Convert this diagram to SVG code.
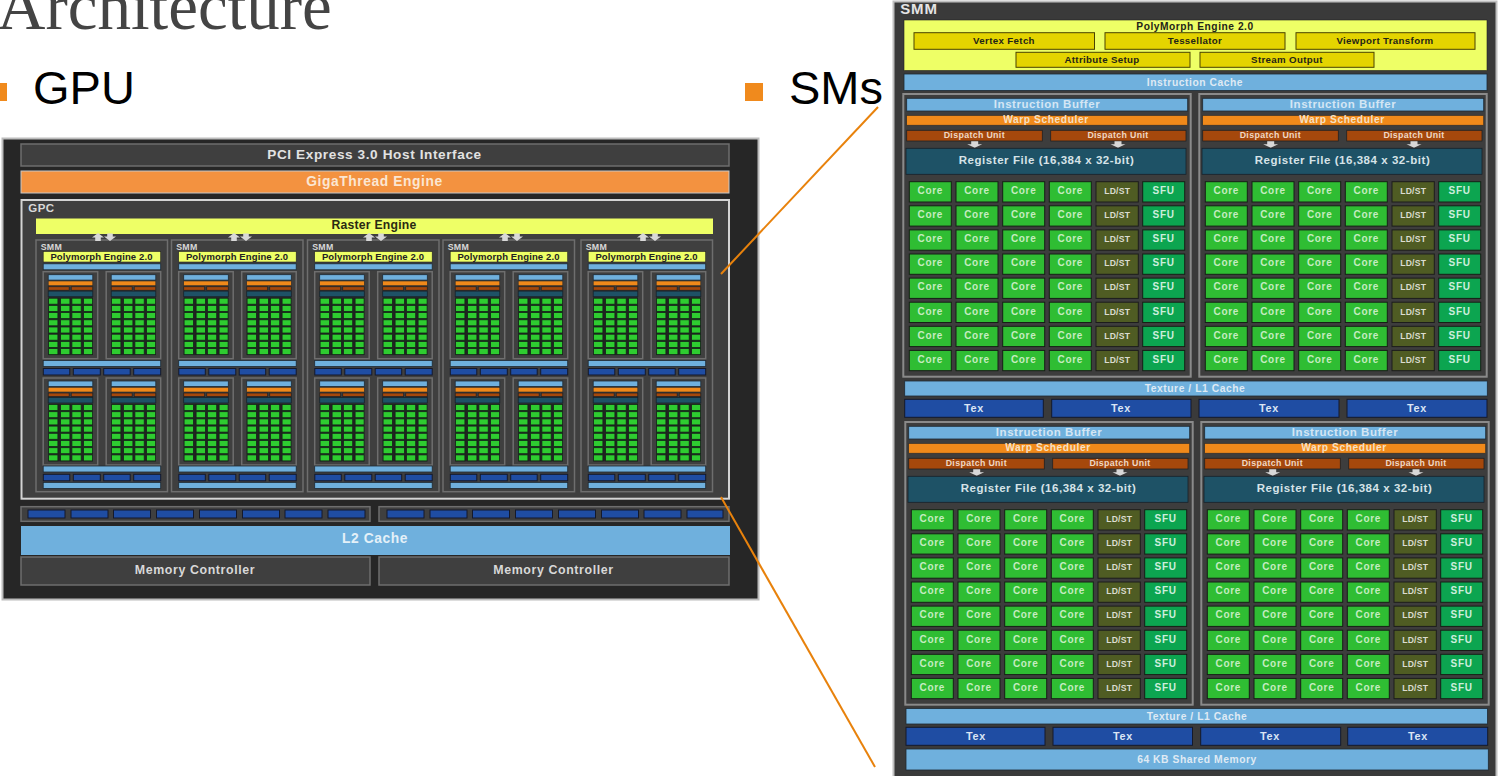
<svg xmlns="http://www.w3.org/2000/svg" xmlns:xlink="http://www.w3.org/1999/xlink" width="1499" height="776" viewBox="0 0 1499 776">
<style>
text{font-family:"Liberation Sans",Arial,sans-serif;font-weight:bold;text-anchor:middle}
.big{font-weight:normal;text-anchor:start;fill:#000;font-size:47px}
.bul{fill:#f08a1d}
.frame{fill:#3f3f3f;stroke:#6e6e6e;stroke-width:1.5}
.lb{fill:#6fb0dd;stroke:#1f2a33;stroke-width:.8}
.or{fill:#f0891a;stroke:#2a2a2a;stroke-width:.6}
.du{fill:#a5480c;stroke:#222;stroke-width:.8}
.rf{fill:#1e5266;stroke:#17222a;stroke-width:.8}
.bl{fill:#1f4da3;stroke:#14192b;stroke-width:1}
.ye{fill:#eeff66;stroke:#222;stroke-width:.6}
.mu{fill:#e4d400;stroke:#4a4300;stroke-width:1}
.cr{fill:#2fbd33;stroke:#161e16;stroke-width:1}
.cs{fill:#2ecc30;stroke:#14261a;stroke-width:.8}
.ld{fill:#4f5c23;stroke:#1c1c1c;stroke-width:1}
.sf{fill:#0ca550;stroke:#161e16;stroke-width:1}
.ar{fill:#d8d8d8}
.w1{fill:#e2e2e2;font-size:13.6px;letter-spacing:.6px}
.w2{fill:#d8d8d8;font-size:12.4px;letter-spacing:.6px}
.w3{fill:#d8d8d8;font-size:11.5px;letter-spacing:.45px}
.d1{fill:#2a2a12;font-size:12.2px;letter-spacing:.25px}
.d2{fill:#222;font-size:9.5px;letter-spacing:.12px}
.s1{fill:#d8d8d8;font-size:8.8px;letter-spacing:.3px;text-anchor:start}
.co text.t1{fill:#d4e6f4;font-size:11.5px;letter-spacing:.55px}
.co text.t2{fill:#f6e0c4;font-size:10.2px;letter-spacing:.6px}
.co text.t3{fill:#f0d8c4;font-size:8.8px;letter-spacing:.35px}
.co text.t4{fill:#d6e3e8;font-size:11.5px;letter-spacing:.55px}
.t5{fill:#dfeaf4;font-size:10.3px;letter-spacing:.55px}
.tx{fill:#dbe5f4;font-size:10.8px;letter-spacing:.7px}
.t6{fill:#1f2418;font-size:9.7px;letter-spacing:.35px}
.co text{fill:#c5ecc0;font-size:10px;letter-spacing:.7px}
.co text.l{fill:#dcdcd0;font-size:8.6px;letter-spacing:.25px}
.co text.s{fill:#cdeedd;font-size:10px;letter-spacing:.8px}
</style>
<defs>
<polygon id="up" class="ar" points="-6,1 0,-3.5 6,1 2.8,1 2.8,4.5 -2.8,4.5 -2.8,1"/>
<polygon id="dn" class="ar" points="-2.8,-3 2.8,-3 2.8,0 6,0 0,4.5 -6,0 -2.8,0"/>
<polygon id="da" class="ar" points="-3.5,0 3.5,0 3.5,3 7.5,3 0,6.5 -7.5,3 -3.5,3"/>
<g id="arrows"><use xlink:href="#up" x="-6" y="236.5"/><use xlink:href="#dn" x="6" y="236.5"/></g>
<g id="crow">
<rect class="cs" x="5.4" width="9.3" height="6"/><rect class="cs" x="17.4" width="9.3" height="6"/><rect class="cs" x="28.7" width="9.3" height="6"/><rect class="cs" x="40.4" width="9" height="6"/>
</g>
<g id="block">
<rect class="frame" width="54.5" height="87"/>
<rect x="5" y="25.6" width="44.6" height="57.8" fill="#222"/>
<rect class="lb" x="5" y="3" width="44.6" height="5.4"/>
<rect class="or" x="5" y="9.3" width="44.6" height="4.7"/>
<rect class="du" x="5" y="15" width="21" height="3.6"/><rect class="du" x="28" y="15" width="21.6" height="3.6"/>
<rect class="rf" x="5" y="19.4" width="44.6" height="5.6"/>
<use xlink:href="#crow" y="26.5"/><use xlink:href="#crow" y="33.7"/><use xlink:href="#crow" y="40.9"/><use xlink:href="#crow" y="48.1"/><use xlink:href="#crow" y="55.3"/><use xlink:href="#crow" y="62.5"/><use xlink:href="#crow" y="69.7"/><use xlink:href="#crow" y="76.9"/>
</g>
<g id="texrow">
<rect class="bl" x="7.3" width="26.5" height="6.5"/><rect class="bl" x="37.3" width="27" height="6.5"/><rect class="bl" x="67.7" width="26.5" height="6.5"/><rect class="bl" x="97.7" width="27" height="6.5"/>
</g>
<g id="smmsmall">
<rect class="frame" y="240" width="131.5" height="251.7"/>
<rect class="ye" x="7.2" y="251.5" width="117.5" height="10.5"/>
<rect class="lb" x="7.2" y="263.8" width="117.5" height="6"/>
<use xlink:href="#block" x="7.2" y="271.7"/><use xlink:href="#block" x="70.2" y="271.7"/>
<rect class="lb" x="7.2" y="360.5" width="117.5" height="6"/>
<use xlink:href="#texrow" y="368.5"/>
<use xlink:href="#block" x="7.2" y="378"/><use xlink:href="#block" x="70.2" y="378"/>
<rect class="lb" x="7.2" y="466" width="117.5" height="6"/>
<use xlink:href="#texrow" y="474.3"/>
<rect class="lb" x="7.2" y="482.4" width="117.5" height="6"/>
</g>
<g id="bigrow">
<rect class="cr" x="909.3" width="42" height="20.3"/><rect class="cr" x="956" width="42" height="20.3"/><rect class="cr" x="1002.7" width="42" height="20.3"/><rect class="cr" x="1049.3" width="42" height="20.3"/><rect class="ld" x="1096" width="42.3" height="20.3"/><rect class="sf" x="1142.7" width="42" height="20.3"/>
</g>
<g id="cluster">
<rect x="903.3" y="94" width="287.4" height="282.7" fill="#3d3d3d" stroke="#8a8a8a" stroke-width="2"/>
<rect class="lb" x="906.7" y="98.3" width="281" height="12.7"/>
<rect class="or" x="906.7" y="115.5" width="281" height="9.7"/>
<rect class="du" x="906.7" y="130.3" width="135.6" height="10.7"/><rect class="du" x="1050.7" y="130.3" width="135.3" height="10.7"/>
<use xlink:href="#da" x="974.7" y="141.3"/><use xlink:href="#da" x="1118" y="141.3"/>
<rect class="rf" x="906" y="148.3" width="280" height="26"/>
<use xlink:href="#bigrow" y="181.7"/><use xlink:href="#bigrow" y="205.8"/><use xlink:href="#bigrow" y="229.9"/><use xlink:href="#bigrow" y="254"/><use xlink:href="#bigrow" y="278.1"/><use xlink:href="#bigrow" y="302.2"/><use xlink:href="#bigrow" y="326.3"/><use xlink:href="#bigrow" y="350.4"/>
</g>
</defs>

<g id="slide-text">
<text class="big" x="-3" y="29" style="font-family:'Liberation Serif',serif;font-size:67px;fill:#444">Architecture</text>
<rect class="bul" x="-11" y="83" width="18" height="18"/>
<text class="big" x="33" y="104">GPU</text>
<rect class="bul" x="745" y="83" width="18" height="18"/>
<text class="big" x="789" y="104">SMs</text>
</g>

<g id="gpu-die">
<rect x="2.5" y="138.5" width="756" height="461" fill="#262626" stroke="#bcbcbc" stroke-width="2"/>
</g>
<g id="pci"><rect class="frame" x="21" y="144" width="708" height="22"/><text class="w1" x="374.5" y="159">PCI Express 3.0 Host Interface</text></g>
<g id="gigathread"><rect x="21" y="171" width="708" height="22" fill="#f39240" stroke="#c8c8c8" stroke-width="1"/><text x="374.5" y="186" font-size="13.8" letter-spacing=".6" fill="#fbe6d2">GigaThread Engine</text></g>
<g id="gpc">
<rect x="21.5" y="200" width="707.5" height="298.7" fill="#3f3f3f" stroke="#d4d4d4" stroke-width="2"/>
<text class="w3" x="41.5" y="211.5">GPC</text>
<rect x="36" y="218.5" width="677" height="15.5" fill="#eeff66"/>
<text class="d1" x="374" y="229">Raster Engine</text>
</g>
<g id="smm-small-1"><use xlink:href="#smmsmall" x="36"/><text class="s1" x="40.7" y="249.5">SMM</text><text class="d2" x="101.5" y="259.5">Polymorph Engine 2.0</text></g>
<g id="smm-small-2"><use xlink:href="#smmsmall" x="171.5"/><text class="s1" x="176.2" y="249.5">SMM</text><text class="d2" x="237" y="259.5">Polymorph Engine 2.0</text></g>
<g id="smm-small-3"><use xlink:href="#smmsmall" x="307.5"/><text class="s1" x="312.2" y="249.5">SMM</text><text class="d2" x="373" y="259.5">Polymorph Engine 2.0</text></g>
<g id="smm-small-4"><use xlink:href="#smmsmall" x="443"/><text class="s1" x="447.7" y="249.5">SMM</text><text class="d2" x="508.5" y="259.5">Polymorph Engine 2.0</text></g>
<g id="smm-small-5"><use xlink:href="#smmsmall" x="581"/><text class="s1" x="585.7" y="249.5">SMM</text><text class="d2" x="646.5" y="259.5">Polymorph Engine 2.0</text></g>
<g id="gpc-arrows">
<use xlink:href="#arrows" x="104"/><use xlink:href="#arrows" x="240"/><use xlink:href="#arrows" x="375"/><use xlink:href="#arrows" x="511"/><use xlink:href="#arrows" x="649"/>
</g>
<g id="mem-io-left">
<rect class="frame" x="21" y="506.7" width="349" height="14.6"/>
<rect class="bl" x="28" y="510" width="37" height="8"/><rect class="bl" x="71" y="510" width="37" height="8"/><rect class="bl" x="113.5" y="510" width="37" height="8"/><rect class="bl" x="156.5" y="510" width="37" height="8"/><rect class="bl" x="199.5" y="510" width="37" height="8"/><rect class="bl" x="242.5" y="510" width="37" height="8"/><rect class="bl" x="285" y="510" width="37" height="8"/><rect class="bl" x="328" y="510" width="37" height="8"/>
</g>
<g id="mem-io-right">
<rect class="frame" x="379" y="506.7" width="350" height="14.6"/>
<rect class="bl" x="387" y="510" width="37" height="8"/><rect class="bl" x="430" y="510" width="37" height="8"/><rect class="bl" x="472.5" y="510" width="37" height="8"/><rect class="bl" x="515.5" y="510" width="37" height="8"/><rect class="bl" x="558.5" y="510" width="37" height="8"/><rect class="bl" x="601.5" y="510" width="37" height="8"/><rect class="bl" x="644" y="510" width="37" height="8"/><rect class="bl" x="687" y="510" width="36" height="8"/>
</g>
<g id="l2"><rect x="21" y="526" width="709" height="29" fill="#6fb0dd"/><text x="375" y="543" font-size="13.8" letter-spacing=".6" fill="#e4f0f8">L2 Cache</text></g>
<g id="mc-1"><rect class="frame" x="21" y="557" width="349" height="28"/><text class="w2" x="195" y="574">Memory Controller</text></g>
<g id="mc-2"><rect class="frame" x="379" y="557" width="350" height="28"/><text class="w2" x="553.5" y="574">Memory Controller</text></g>

<g id="connectors" fill="none" stroke="#e8820c" stroke-width="2">
<line x1="721" y1="274" x2="878" y2="107"/>
<line x1="721" y1="497" x2="875" y2="767"/>
</g>

<g id="smm-detail">
<rect x="893.5" y="1.5" width="603" height="776" fill="#3a3a3a" stroke="#c0c0c0" stroke-width="2"/>
<text x="919" y="13.9" font-size="15" letter-spacing=".9" fill="#e4e4e4">SMM</text>
</g>
<g id="polymorph">
<rect class="ye" x="904" y="20" width="583" height="50.5"/>
<text class="t6" x="1195" y="29.5" style="font-size:10.2px;letter-spacing:.55px">PolyMorph Engine 2.0</text>
<rect class="mu" x="914" y="32.7" width="180.5" height="16.6"/><text class="t6" x="1004" y="44.2">Vertex Fetch</text>
<rect class="mu" x="1105" y="32.7" width="180" height="16.6"/><text class="t6" x="1195" y="44.2">Tessellator</text>
<rect class="mu" x="1296" y="32.7" width="179" height="16.6"/><text class="t6" x="1385" y="44.2">Viewport Transform</text>
<rect class="mu" x="1016" y="52.3" width="174" height="15"/><text class="t6" x="1102" y="62.7">Attribute Setup</text>
<rect class="mu" x="1200" y="52.3" width="174" height="15"/><text class="t6" x="1287" y="62.7">Stream Output</text>
</g>
<g id="instruction-cache"><rect class="lb" x="904" y="74" width="583" height="16.5"/><text class="t5" x="1195" y="85.5">Instruction Cache</text></g>

<g id="cluster-1" class="co"><use xlink:href="#cluster"/>
<text class="t1" x="1047" y="107.7">Instruction Buffer</text><text class="t2" x="1046" y="123">Warp Scheduler</text><text class="t3" x="974.3" y="137.7">Dispatch Unit</text><text class="t3" x="1118" y="137.7">Dispatch Unit</text><text class="t4" x="1046.5" y="163.9">Register File (16,384 x 32-bit)</text>
<g transform="translate(0,194)"><text x="930.3">Core</text><text x="977">Core</text><text x="1023.7">Core</text><text x="1070.3">Core</text><text class="l" x="1117.2">LD/ST</text><text class="s" x="1163.7">SFU</text></g>
<g transform="translate(0,218.1)"><text x="930.3">Core</text><text x="977">Core</text><text x="1023.7">Core</text><text x="1070.3">Core</text><text class="l" x="1117.2">LD/ST</text><text class="s" x="1163.7">SFU</text></g>
<g transform="translate(0,242.2)"><text x="930.3">Core</text><text x="977">Core</text><text x="1023.7">Core</text><text x="1070.3">Core</text><text class="l" x="1117.2">LD/ST</text><text class="s" x="1163.7">SFU</text></g>
<g transform="translate(0,266.3)"><text x="930.3">Core</text><text x="977">Core</text><text x="1023.7">Core</text><text x="1070.3">Core</text><text class="l" x="1117.2">LD/ST</text><text class="s" x="1163.7">SFU</text></g>
<g transform="translate(0,290.4)"><text x="930.3">Core</text><text x="977">Core</text><text x="1023.7">Core</text><text x="1070.3">Core</text><text class="l" x="1117.2">LD/ST</text><text class="s" x="1163.7">SFU</text></g>
<g transform="translate(0,314.5)"><text x="930.3">Core</text><text x="977">Core</text><text x="1023.7">Core</text><text x="1070.3">Core</text><text class="l" x="1117.2">LD/ST</text><text class="s" x="1163.7">SFU</text></g>
<g transform="translate(0,338.6)"><text x="930.3">Core</text><text x="977">Core</text><text x="1023.7">Core</text><text x="1070.3">Core</text><text class="l" x="1117.2">LD/ST</text><text class="s" x="1163.7">SFU</text></g>
<g transform="translate(0,362.7)"><text x="930.3">Core</text><text x="977">Core</text><text x="1023.7">Core</text><text x="1070.3">Core</text><text class="l" x="1117.2">LD/ST</text><text class="s" x="1163.7">SFU</text></g>
</g>
<g id="cluster-2" class="co" transform="translate(296,0)"><use xlink:href="#cluster"/>
<text class="t1" x="1047" y="107.7">Instruction Buffer</text><text class="t2" x="1046" y="123">Warp Scheduler</text><text class="t3" x="974.3" y="137.7">Dispatch Unit</text><text class="t3" x="1118" y="137.7">Dispatch Unit</text><text class="t4" x="1046.5" y="163.9">Register File (16,384 x 32-bit)</text>
<g transform="translate(0,194)"><text x="930.3">Core</text><text x="977">Core</text><text x="1023.7">Core</text><text x="1070.3">Core</text><text class="l" x="1117.2">LD/ST</text><text class="s" x="1163.7">SFU</text></g>
<g transform="translate(0,218.1)"><text x="930.3">Core</text><text x="977">Core</text><text x="1023.7">Core</text><text x="1070.3">Core</text><text class="l" x="1117.2">LD/ST</text><text class="s" x="1163.7">SFU</text></g>
<g transform="translate(0,242.2)"><text x="930.3">Core</text><text x="977">Core</text><text x="1023.7">Core</text><text x="1070.3">Core</text><text class="l" x="1117.2">LD/ST</text><text class="s" x="1163.7">SFU</text></g>
<g transform="translate(0,266.3)"><text x="930.3">Core</text><text x="977">Core</text><text x="1023.7">Core</text><text x="1070.3">Core</text><text class="l" x="1117.2">LD/ST</text><text class="s" x="1163.7">SFU</text></g>
<g transform="translate(0,290.4)"><text x="930.3">Core</text><text x="977">Core</text><text x="1023.7">Core</text><text x="1070.3">Core</text><text class="l" x="1117.2">LD/ST</text><text class="s" x="1163.7">SFU</text></g>
<g transform="translate(0,314.5)"><text x="930.3">Core</text><text x="977">Core</text><text x="1023.7">Core</text><text x="1070.3">Core</text><text class="l" x="1117.2">LD/ST</text><text class="s" x="1163.7">SFU</text></g>
<g transform="translate(0,338.6)"><text x="930.3">Core</text><text x="977">Core</text><text x="1023.7">Core</text><text x="1070.3">Core</text><text class="l" x="1117.2">LD/ST</text><text class="s" x="1163.7">SFU</text></g>
<g transform="translate(0,362.7)"><text x="930.3">Core</text><text x="977">Core</text><text x="1023.7">Core</text><text x="1070.3">Core</text><text class="l" x="1117.2">LD/ST</text><text class="s" x="1163.7">SFU</text></g>
</g>
<g id="tex-upper">
<rect class="lb" x="904.7" y="381" width="582.6" height="15"/><text class="t5" x="1195" y="391.5">Texture / L1 Cache</text>
<rect class="bl" x="904.7" y="399.3" width="138.6" height="18"/><text class="tx" x="974" y="411.5">Tex</text>
<rect class="bl" x="1051.7" y="399.3" width="139.3" height="18"/><text class="tx" x="1121" y="411.5">Tex</text>
<rect class="bl" x="1199" y="399.3" width="140" height="18"/><text class="tx" x="1269" y="411.5">Tex</text>
<rect class="bl" x="1347" y="399.3" width="140" height="18"/><text class="tx" x="1417" y="411.5">Tex</text>
</g>
<g id="cluster-3" class="co" transform="translate(2,328)"><use xlink:href="#cluster"/>
<text class="t1" x="1047" y="107.7">Instruction Buffer</text><text class="t2" x="1046" y="123">Warp Scheduler</text><text class="t3" x="974.3" y="137.7">Dispatch Unit</text><text class="t3" x="1118" y="137.7">Dispatch Unit</text><text class="t4" x="1046.5" y="163.9">Register File (16,384 x 32-bit)</text>
<g transform="translate(0,194)"><text x="930.3">Core</text><text x="977">Core</text><text x="1023.7">Core</text><text x="1070.3">Core</text><text class="l" x="1117.2">LD/ST</text><text class="s" x="1163.7">SFU</text></g>
<g transform="translate(0,218.1)"><text x="930.3">Core</text><text x="977">Core</text><text x="1023.7">Core</text><text x="1070.3">Core</text><text class="l" x="1117.2">LD/ST</text><text class="s" x="1163.7">SFU</text></g>
<g transform="translate(0,242.2)"><text x="930.3">Core</text><text x="977">Core</text><text x="1023.7">Core</text><text x="1070.3">Core</text><text class="l" x="1117.2">LD/ST</text><text class="s" x="1163.7">SFU</text></g>
<g transform="translate(0,266.3)"><text x="930.3">Core</text><text x="977">Core</text><text x="1023.7">Core</text><text x="1070.3">Core</text><text class="l" x="1117.2">LD/ST</text><text class="s" x="1163.7">SFU</text></g>
<g transform="translate(0,290.4)"><text x="930.3">Core</text><text x="977">Core</text><text x="1023.7">Core</text><text x="1070.3">Core</text><text class="l" x="1117.2">LD/ST</text><text class="s" x="1163.7">SFU</text></g>
<g transform="translate(0,314.5)"><text x="930.3">Core</text><text x="977">Core</text><text x="1023.7">Core</text><text x="1070.3">Core</text><text class="l" x="1117.2">LD/ST</text><text class="s" x="1163.7">SFU</text></g>
<g transform="translate(0,338.6)"><text x="930.3">Core</text><text x="977">Core</text><text x="1023.7">Core</text><text x="1070.3">Core</text><text class="l" x="1117.2">LD/ST</text><text class="s" x="1163.7">SFU</text></g>
<g transform="translate(0,362.7)"><text x="930.3">Core</text><text x="977">Core</text><text x="1023.7">Core</text><text x="1070.3">Core</text><text class="l" x="1117.2">LD/ST</text><text class="s" x="1163.7">SFU</text></g>
</g>
<g id="cluster-4" class="co" transform="translate(298,328)"><use xlink:href="#cluster"/>
<text class="t1" x="1047" y="107.7">Instruction Buffer</text><text class="t2" x="1046" y="123">Warp Scheduler</text><text class="t3" x="974.3" y="137.7">Dispatch Unit</text><text class="t3" x="1118" y="137.7">Dispatch Unit</text><text class="t4" x="1046.5" y="163.9">Register File (16,384 x 32-bit)</text>
<g transform="translate(0,194)"><text x="930.3">Core</text><text x="977">Core</text><text x="1023.7">Core</text><text x="1070.3">Core</text><text class="l" x="1117.2">LD/ST</text><text class="s" x="1163.7">SFU</text></g>
<g transform="translate(0,218.1)"><text x="930.3">Core</text><text x="977">Core</text><text x="1023.7">Core</text><text x="1070.3">Core</text><text class="l" x="1117.2">LD/ST</text><text class="s" x="1163.7">SFU</text></g>
<g transform="translate(0,242.2)"><text x="930.3">Core</text><text x="977">Core</text><text x="1023.7">Core</text><text x="1070.3">Core</text><text class="l" x="1117.2">LD/ST</text><text class="s" x="1163.7">SFU</text></g>
<g transform="translate(0,266.3)"><text x="930.3">Core</text><text x="977">Core</text><text x="1023.7">Core</text><text x="1070.3">Core</text><text class="l" x="1117.2">LD/ST</text><text class="s" x="1163.7">SFU</text></g>
<g transform="translate(0,290.4)"><text x="930.3">Core</text><text x="977">Core</text><text x="1023.7">Core</text><text x="1070.3">Core</text><text class="l" x="1117.2">LD/ST</text><text class="s" x="1163.7">SFU</text></g>
<g transform="translate(0,314.5)"><text x="930.3">Core</text><text x="977">Core</text><text x="1023.7">Core</text><text x="1070.3">Core</text><text class="l" x="1117.2">LD/ST</text><text class="s" x="1163.7">SFU</text></g>
<g transform="translate(0,338.6)"><text x="930.3">Core</text><text x="977">Core</text><text x="1023.7">Core</text><text x="1070.3">Core</text><text class="l" x="1117.2">LD/ST</text><text class="s" x="1163.7">SFU</text></g>
<g transform="translate(0,362.7)"><text x="930.3">Core</text><text x="977">Core</text><text x="1023.7">Core</text><text x="1070.3">Core</text><text class="l" x="1117.2">LD/ST</text><text class="s" x="1163.7">SFU</text></g>
</g>
<g id="tex-lower">
<rect class="lb" x="906" y="708.5" width="581.5" height="15.5"/><text class="t5" x="1197" y="719.5">Texture / L1 Cache</text>
<rect class="bl" x="906" y="727.3" width="139" height="18"/><text class="tx" x="976" y="739.5">Tex</text>
<rect class="bl" x="1053" y="727.3" width="139.5" height="18"/><text class="tx" x="1123" y="739.5">Tex</text>
<rect class="bl" x="1200.7" y="727.3" width="140" height="18"/><text class="tx" x="1270" y="739.5">Tex</text>
<rect class="bl" x="1347.7" y="727.3" width="140" height="18"/><text class="tx" x="1418" y="739.5">Tex</text>
</g>
<g id="shared-memory"><rect class="lb" x="906" y="749" width="582.3" height="21"/><text class="t5" x="1197" y="762.5">64 KB Shared Memory</text></g>
</svg>
